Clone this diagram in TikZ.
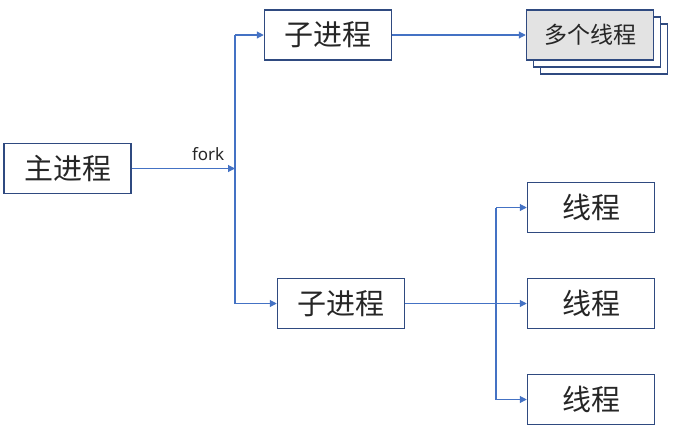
\documentclass[tikz,border=0pt]{standalone}
\usepackage{fontspec}
\setmainfont{Noto Sans}
\newfontfamily\cjk{Noto Sans CJK SC}
\usetikzlibrary{arrows.meta}
\definecolor{boxline}{HTML}{2F4A80}
\definecolor{conn}{HTML}{4472C4}
\definecolor{txt}{HTML}{262626}
\definecolor{fillg}{HTML}{E3E3E3}
\tikzset{
  box/.style={draw=boxline, line width=1.5pt, fill=white, minimum width=127pt, minimum height=50pt, inner sep=0pt, text=txt, font=\cjk\fontsize{29}{33}\selectfont},
  conline/.style={draw=conn, line width=1.1pt, -{Triangle[length=7pt,width=7pt]}},
  plain/.style={draw=conn, line width=1.1pt}
}
\begin{document}
\begin{tikzpicture}[x=1pt,y=-1pt]
\useasboundingbox (0,0) rectangle (674,429);
\node[box] (main) at (67.5,168.5) {主进程};
\node[box] (c1) at (328,35) {子进程};
\node[box] (c2) at (341,303.5) {子进程};
% stacked box
\node[box] (s3) at (604,49) {};
\node[box] (s2) at (597,42) {};
\node[box, fill=fillg, font=\cjk\fontsize{23}{27}\selectfont] (multi) at (590,35) {多个线程};
\node[box] (t1) at (591,207.5) {线程};
\node[box] (t2) at (591,303.5) {线程};
\node[box] (t3) at (591,399.5) {线程};
% junctions
\coordinate (j) at (235,168.5);
\coordinate (jt) at (235,35);
\coordinate (jb) at (235,303.5);
\coordinate (kt) at (496,207.5);
\coordinate (kb) at (496,399.5);
\draw[plain] (jt) -- (jb);
\draw[conline] (main.east) -- node[above, pos=0.74, yshift=4pt, text=txt, font=\fontsize{17}{19}\selectfont] {fork} (j);
\draw[conline] (jt) -- (c1.west);
\draw[conline] (jb) -- (c2.west);
\draw[conline] (c1.east) -- (multi.west);
\draw[conline] (c2.east) -- (t2.west);
\draw[plain] (kt) -- (kb);
\draw[conline] (kt) -- (t1.west);
\draw[conline] (kb) -- (t3.west);
\end{tikzpicture}
\end{document}
